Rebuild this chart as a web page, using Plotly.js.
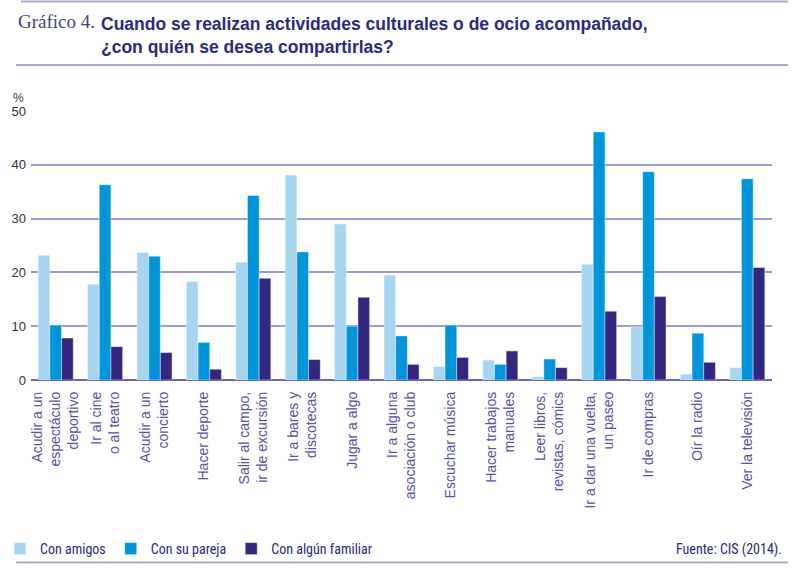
<!DOCTYPE html>
<html>
<head>
<meta charset="utf-8">
<script src="https://cdn.plot.ly/plotly-3.0.1.min.js"></script>
<style>
  html, body { margin: 0; padding: 0; background: #fff; }
  #chart { width: 800px; height: 569px; }
</style>
</head>
<body>
<div id="chart"></div>
<script>
const categories = [
  "Acudir a un<br>espectáculo<br>deportivo",
  "Ir al cine<br>o al teatro",
  "Acudir a un<br>concierto",
  "Hacer deporte",
  "Salir al campo,<br>ir de excursión",
  "Ir a bares y<br>discotecas",
  "Jugar a algo",
  "Ir a alguna<br>asociación o club",
  "Escuchar música",
  "Hacer trabajos<br>manuales",
  "Leer libros,<br>revistas, cómics",
  "Ir a dar una vuelta,<br>un paseo",
  "Ir de compras",
  "Oír la radio",
  "Ver la televisión",
];

const conAmigos = [23.2, 17.8, 23.7, 18.3, 21.9, 38.1, 29.0, 19.5, 2.5, 3.7, 0.6, 21.5, 9.9, 1.1, 2.3];
const conPareja = [10.2, 36.3, 23.0, 7.0, 34.3, 23.8, 10.0, 8.2, 10.2, 2.9, 3.9, 46.1, 38.7, 8.7, 37.4];
const conFamiliar = [7.8, 6.2, 5.1, 2.0, 18.9, 3.8, 15.4, 2.9, 4.2, 5.4, 2.3, 12.8, 15.5, 3.3, 20.9];

const seriesNames = ["Con amigos", "Con su pareja", "Con algún familiar"];
const seriesColors = ["#a6d5f2", "#0095db", "#33277f"];
const yTicks = [0, 10, 20, 30, 40, 50];

const narrow = "'Liberation Sans Narrow', 'Arial Narrow', 'Roboto Condensed', Roboto, sans-serif";
const sans = "'Liberation Sans', Arial, sans-serif";
const navy = "#2b2a7c";
const rule = "#aea8d4";

function barTrace(values, index) {
  return {
    type: "bar",
    name: seriesNames[index],
    x: categories,
    y: values,
    marker: {
      color: seriesColors[index],
      line: { color: "rgba(255,255,255,0.7)", width: 0.6 },
    },
    hoverinfo: "y+name",
  };
}

const traces = [conAmigos, conPareja, conFamiliar].map(barTrace);

// plot area: x 31..772, y 111..379.7 (px)
const px = (x) => (x - 31) / 741;
const py = (y) => (379.7 - y) / 268.7;

function hRule(y, x0) {
  return {
    type: "line",
    xref: "paper",
    yref: "paper",
    x0: px(x0),
    x1: px(788),
    y0: py(y),
    y1: py(y),
    line: { color: rule, width: 2 },
  };
}

const layout = {
  width: 800,
  height: 569,
  margin: { l: 31, r: 28, t: 111, b: 189.3, autoexpand: false },
  paper_bgcolor: "#fff",
  plot_bgcolor: "#fff",
  barmode: "group",
  bargap: 0.29,
  bargroupgap: 0,
  showlegend: true,
  legend: {
    orientation: "h",
    x: 0,
    xref: "container",
    xanchor: "left",
    y: 1 - 549 / 569,
    yref: "container",
    yanchor: "middle",
    bgcolor: "rgba(0,0,0,0)",
    font: { family: narrow, size: 14, color: navy },
    itemwidth: 30,
    traceorder: "normal",
  },
  xaxis: {
    type: "category",
    tickangle: -90,
    tickfont: { family: sans, size: 14, color: "#5a50a6" },
    showgrid: false,
    showline: false,
    ticks: "",
    ticklabelstandoff: 8,
    automargin: false,
    fixedrange: true,
  },
  yaxis: {
    range: [0, 50],
    tickvals: yTicks,
    ticktext: yTicks.map(String),
    tickfont: { family: sans, size: 13, color: "#333" },
    showgrid: true,
    gridcolor: "#9f98cb",
    gridwidth: 1.5,
    zeroline: true,
    zerolinecolor: "#6e67ad",
    zerolinewidth: 2,
    showline: false,
    ticks: "",
    ticklabelstandoff: 4,
    automargin: false,
    fixedrange: true,
  },
  shapes: [hRule(1.5, 21), hRule(65, 16), hRule(562, 16)],
  annotations: [
    {
      text: "Gráfico 4.",
      xref: "paper",
      yref: "paper",
      x: px(16),
      xanchor: "left",
      y: py(22),
      yanchor: "middle",
      showarrow: false,
      font: { family: "'Liberation Serif', 'DejaVu Serif', serif", size: 19, color: "#44438a" },
    },
    {
      text: "<b>Cuando se realizan actividades culturales o de ocio acompañado,<br>¿con quién se desea compartirlas?</b>",
      xref: "paper",
      yref: "paper",
      x: px(99),
      xanchor: "left",
      align: "left",
      y: py(12),
      yanchor: "top",
      showarrow: false,
      font: { family: sans, size: 17.5, color: navy },
    },
    {
      text: "%",
      xref: "paper",
      yref: "paper",
      x: px(18),
      xanchor: "center",
      y: py(98),
      yanchor: "middle",
      showarrow: false,
      font: { family: sans, size: 12, color: "#333" },
    },
    {
      text: "Fuente: CIS (2014).",
      xref: "paper",
      yref: "paper",
      x: px(784),
      xanchor: "right",
      y: py(549),
      yanchor: "middle",
      showarrow: false,
      font: { family: narrow, size: 14, color: navy },
    },
  ],
};

Plotly.newPlot("chart", traces, layout, { displayModeBar: false, responsive: false });
</script>
</body>
</html>
